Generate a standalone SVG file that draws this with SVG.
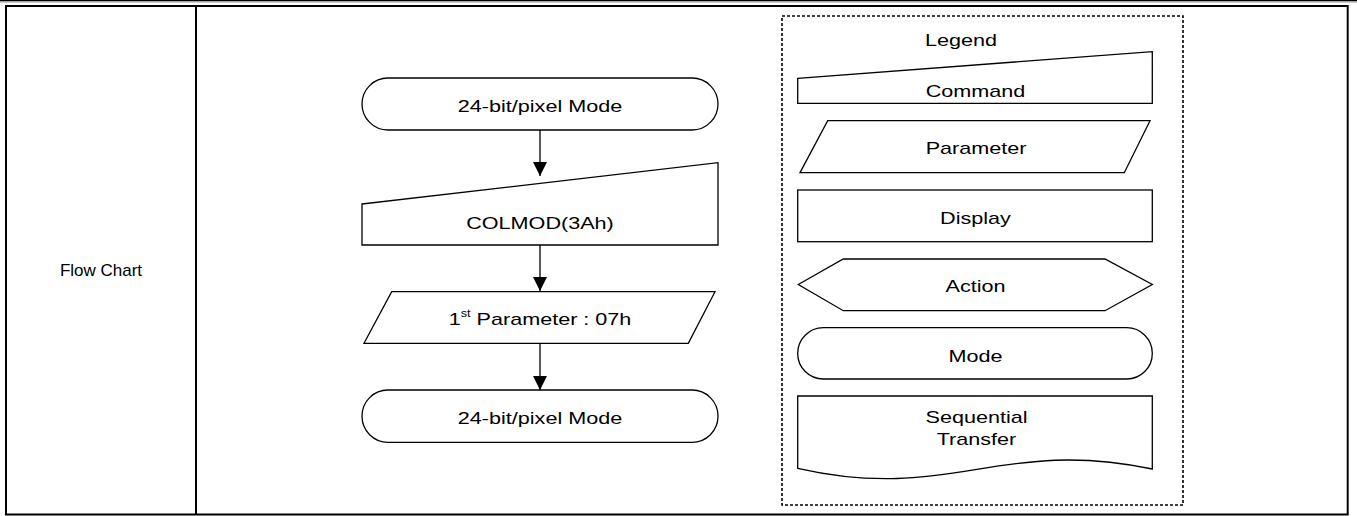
<svg xmlns="http://www.w3.org/2000/svg" width="1357" height="516" viewBox="0 0 1357 516">
<defs>
<style>
.t{font-family:"Liberation Sans",Arial,sans-serif;font-size:17px;fill:#000;text-anchor:middle}
.s{fill:#fff;stroke:#000;stroke-width:1.3}
.b{stroke:#000;stroke-width:2;fill:none}
.c{stroke:#000;stroke-width:1.3;fill:none}
</style>
<marker id="ah" viewBox="0 0 14 16" refX="14" refY="7" markerWidth="14" markerHeight="16" markerUnits="userSpaceOnUse" orient="auto">
<path d="M0,0 L14,7 L0,14 Z" fill="#000"/>
</marker>
</defs>
<rect x="0" y="0" width="1357" height="516" fill="#fff"/>
<g id="table">
<rect x="0" y="0" width="1357" height="1.2" fill="#000"/>
<rect x="0" y="1.2" width="1357" height="1.3" fill="#999"/>
<rect class="b" x="6" y="6" width="1341.7" height="508.5"/>
<line class="b" x1="196" y1="6" x2="196" y2="514.5"/>
<text class="t" x="101" y="276" font-size="16">Flow Chart</text>
</g>
<g id="connectors">
<line class="c" x1="540" y1="130" x2="540" y2="176" marker-end="url(#ah)"/>
<line class="c" x1="540" y1="245" x2="540" y2="291" marker-end="url(#ah)"/>
<line class="c" x1="540" y1="343" x2="540" y2="390" marker-end="url(#ah)"/>
</g>
<g id="mode1">
<rect class="s" x="362" y="78" width="356" height="52" rx="26" ry="26"/>
<text class="t" transform="translate(540 112) scale(1.27 1)">24-bit/pixel Mode</text>
</g>
<g id="colmod">
<polygon class="s" points="362,204 718,162.7 718,245 362,245"/>
<text class="t" transform="translate(540 228.5) scale(1.27 1)">COLMOD(3Ah)</text>
</g>
<g id="param">
<polygon class="s" points="391.7,291.7 715,291.7 688.3,343.3 364,343.3"/>
<text class="t" transform="translate(540 325) scale(1.27 1)">1<tspan font-size="10" dy="-8.5">st</tspan><tspan dy="8.5"> Parameter : 07h</tspan></text>
</g>
<g id="mode2">
<rect class="s" x="362" y="390" width="356" height="52.3" rx="26" ry="26"/>
<text class="t" transform="translate(540 423.5) scale(1.27 1)">24-bit/pixel Mode</text>
</g>
<g id="legend">
<rect x="782" y="16" width="401" height="489" fill="none" stroke="#000" stroke-width="1.6" stroke-dasharray="3 2"/>
<text class="t" transform="translate(961 46) scale(1.27 1)">Legend</text>
</g>
<g id="lg-command">
<polygon class="s" points="797.7,78.3 1152.3,51.7 1152.3,103.3 797.7,103.3"/>
<text class="t" transform="translate(975.5 97.3) scale(1.27 1)">Command</text>
</g>
<g id="lg-parameter">
<polygon class="s" points="827.7,120.7 1150,120.7 1124.3,172.7 800,172.7"/>
<text class="t" transform="translate(976 154) scale(1.27 1)">Parameter</text>
</g>
<g id="lg-display">
<rect class="s" x="797.7" y="190" width="354.6" height="51.7"/>
<text class="t" transform="translate(975.5 223.5) scale(1.27 1)">Display</text>
</g>
<g id="lg-action">
<polygon class="s" points="798.3,284.5 843.3,259 1105,259 1152.3,284.5 1105,310.7 843.3,310.7"/>
<text class="t" transform="translate(975.5 291.5) scale(1.27 1)">Action</text>
</g>
<g id="lg-mode">
<rect class="s" x="797.7" y="327.7" width="354.6" height="51.3" rx="25.6" ry="25.6"/>
<text class="t" transform="translate(975.5 361.5) scale(1.27 1)">Mode</text>
</g>
<g id="lg-seq">
<path class="s" d="M797.7,396 H1152.3 V469 C1000,437 950,503 797.7,468.3 Z"/>
<text class="t" transform="translate(976.5 423) scale(1.27 1)">Sequential</text>
<text class="t" transform="translate(976.5 445) scale(1.27 1)">Transfer</text>
</g>
</svg>
